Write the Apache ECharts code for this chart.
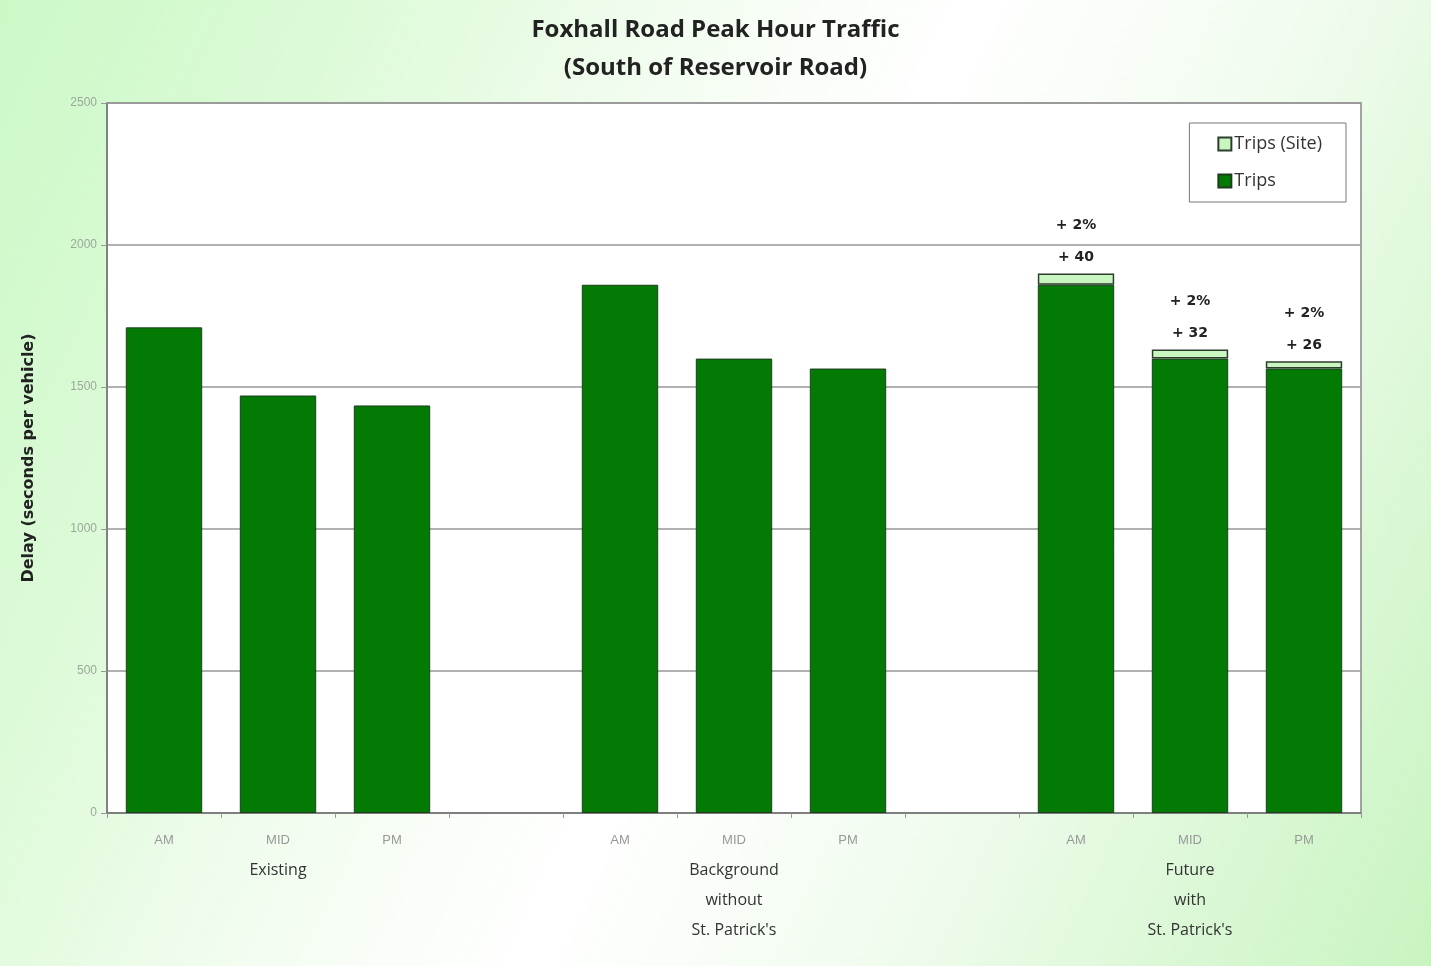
<!DOCTYPE html>
<html>
<head>
<meta charset="utf-8">
<script src="https://cdn.jsdelivr.net/npm/echarts@6/dist/echarts.min.js"></script>
<style>
  html, body { margin: 0; padding: 0; }
  body {
    width: 1431px; height: 966px;
    background: linear-gradient(115deg, #cbf9c6 0%, #dcfad7 18%, #f4fdf2 38%, #ffffff 52%, #f1fcef 70%, #c8f4c0 100%);
  }
  #chart { width: 1431px; height: 966px; }
</style>
</head>
<body>
<div id="chart"></div>
<script>
// 时段分类，空字符串为组间空位
const periods = ['AM', 'MID', 'PM', '', 'AM', 'MID', 'PM', '', 'AM', 'MID', 'PM']
// 组名，挂在每组中间那一根柱子下面
const groupNames = ['', 'Existing', '', '', '', 'Background\nwithout\nSt. Patrick\'s', '', '', '', 'Future\nwith\nSt. Patrick\'s', '']
const tripsValues = [1710, 1470, 1435, '-', 1860, 1600, 1565, '-', 1860, 1600, 1565]
const siteValues = ['-', '-', '-', '-', '-', '-', '-', '-', 40, 32, 26]
const sitePercent = ['', '', '', '', '', '', '', '', '2%', '2%', '2%']
const yTicks = { min: 0, max: 2500, interval: 500 }

const chart = echarts.init(document.getElementById('chart'))

const option = {
  backgroundColor: 'transparent',
  title: {
    text: 'Foxhall Road Peak Hour Traffic\n(South of Reservoir Road)',
    left: 'center',
    top: 6,
    textStyle: {
      fontFamily: 'Open Sans',
      fontWeight: 'bold',
      fontSize: 24,
      lineHeight: 38,
      color: '#222'
    }
  },
  legend: {
    orient: 'vertical',
    right: 85,
    top: 123,
    padding: [12, 24, 12, 28],
    itemGap: 19,
    itemWidth: 13,
    itemHeight: 13,
    backgroundColor: '#fff',
    borderColor: '#777',
    borderWidth: 1,
    borderRadius: 0,
    icon: 'rect',
    data: ['Trips (Site)', 'Trips'],
    textStyle: { fontFamily: 'Open Sans', fontSize: 18, color: '#333', padding: [0, 0, 0, -2] }
  },
  grid: {
    left: 107,
    right: 70,
    top: 103,
    bottom: 153,
    show: true,
    backgroundColor: '#fff',
    borderColor: '#888',
    borderWidth: 1.5
  },
  xAxis: {
    type: 'category',
    data: periods,
    axisLine: { lineStyle: { color: '#777', width: 1.5 } },
    axisTick: { show: true, alignWithLabel: false, length: 5, lineStyle: { color: '#999' } },
    axisLabel: {
      interval: 0,
      margin: 12,
      formatter: (value, idx) => {
        const g = groupNames[idx]
        let s = '{p|' + (value || ' ') + '}'
        if (g) {
          s += '\n' + g.split('\n').map(line => '{g|' + line + '}').join('\n')
        }
        return s
      },
      rich: {
        p: { fontFamily: 'Liberation Sans', fontSize: 13, color: '#999', lineHeight: 30 },
        g: { fontFamily: 'Open Sans', fontSize: 16, color: '#333', lineHeight: 30 }
      }
    }
  },
  yAxis: {
    type: 'value',
    min: yTicks.min,
    max: yTicks.max,
    interval: yTicks.interval,
    name: 'Delay (seconds per vehicle)',
    nameLocation: 'middle',
    nameGap: 70,
    nameTextStyle: { fontFamily: 'DejaVu Sans', fontWeight: 'bold', fontSize: 16, color: '#222' },
    axisLine: { show: true, lineStyle: { color: '#777', width: 1.5 } },
    axisTick: { show: true, length: 6, lineStyle: { color: '#999' } },
    axisLabel: {
      fontFamily: 'Liberation Sans',
      fontSize: 12,
      color: '#9aa89a',
      margin: 10,
      formatter: v => String(v)
    },
    splitLine: { lineStyle: { color: '#999', width: 1.5 } }
  },
  series: [
    {
      name: 'Trips',
      type: 'bar',
      stack: 'total',
      barCategoryGap: '33%',
      data: tripsValues,
      itemStyle: { color: '#037a03', borderColor: '#1d3d1d', borderWidth: 1 }
    },
    {
      name: 'Trips (Site)',
      type: 'bar',
      stack: 'total',
      barCategoryGap: '33%',
      data: siteValues,
      itemStyle: { color: '#c9f5c1', borderColor: '#2d3d2d', borderWidth: 1.5 },
      label: {
        show: true,
        position: 'top',
        distance: 0,
        formatter: p => '+ ' + sitePercent[p.dataIndex] + '\n+ ' + p.value,
        fontFamily: 'DejaVu Sans',
        fontWeight: 'bold',
        fontSize: 14,
        lineHeight: 32,
        color: '#222'
      }
    }
  ]
}

chart.setOption(option)
</script>
</body>
</html>
